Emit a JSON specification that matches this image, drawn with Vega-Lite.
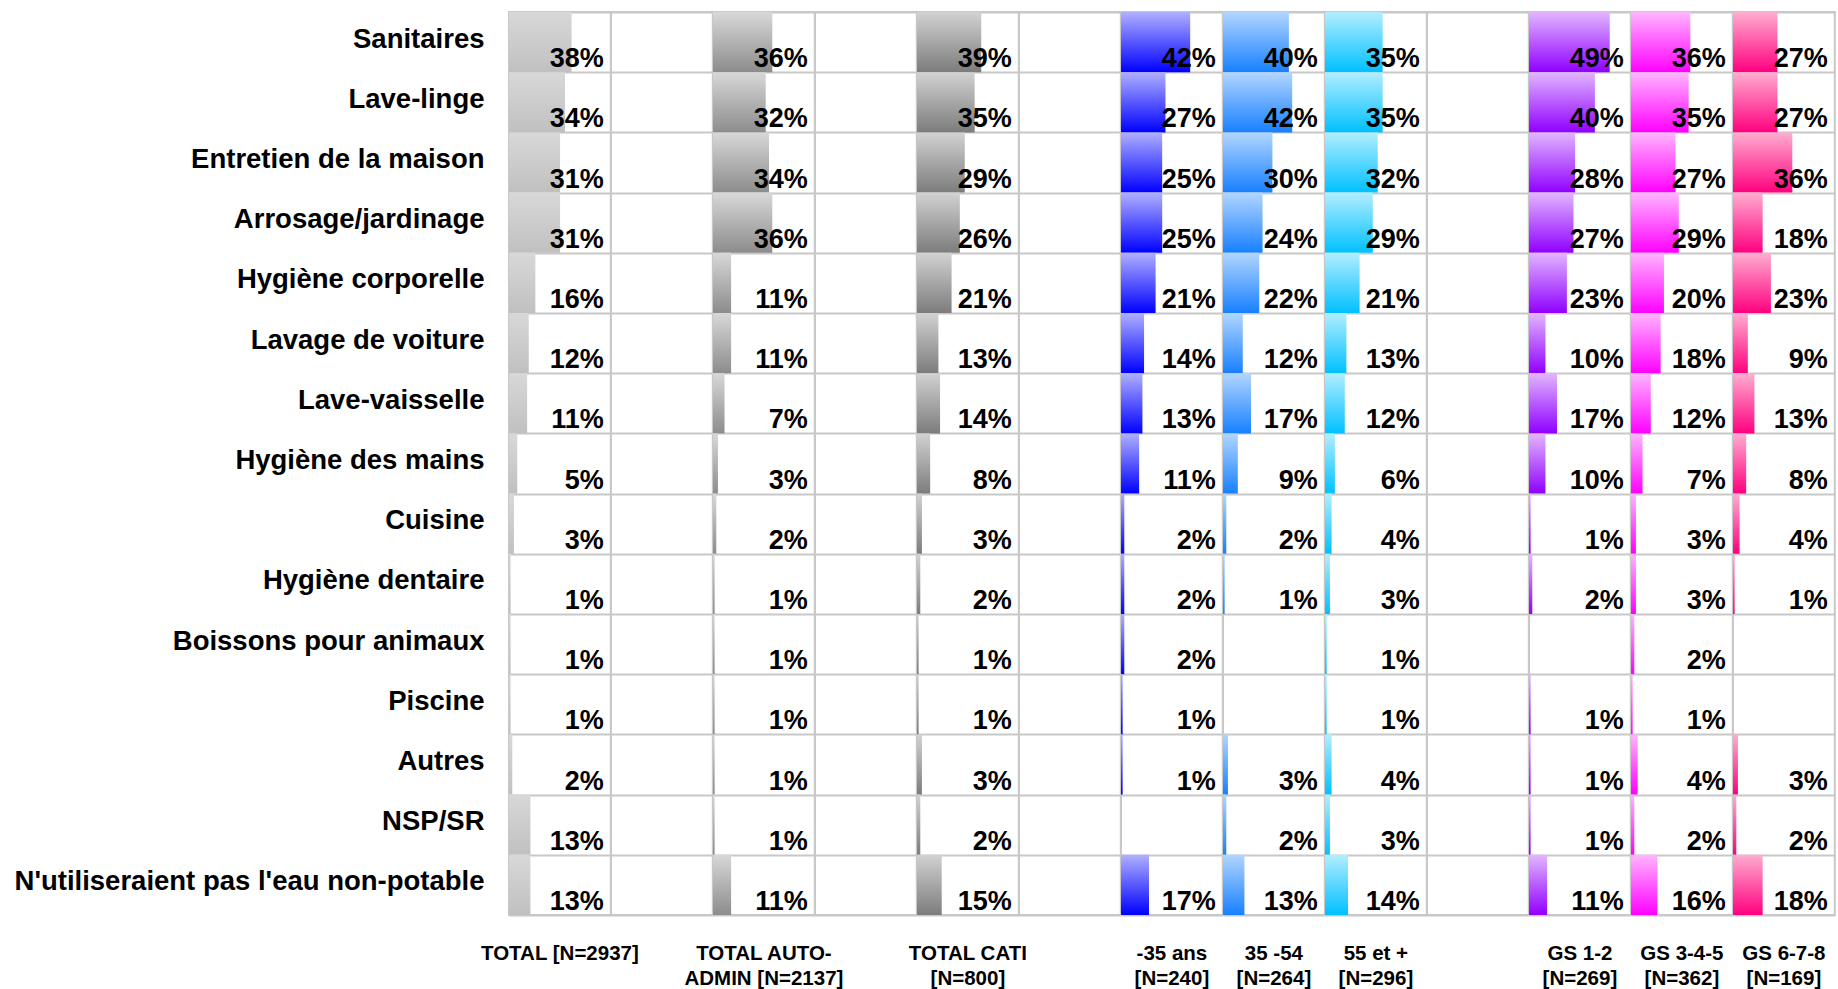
{
  "$schema": "https://vega.github.io/schema/vega-lite/v6.json",
  "padding": {"left": 14, "top": -2, "right": 0, "bottom": 0},
  "background": "white",
  "bounds": "flush",
  "data": {"values": [
    {"cat":"Sanitaires","grp":"TOTAL [N=2937]","v":0.38},
    {"cat":"Sanitaires","grp":"TOTAL AUTO-|ADMIN [N=2137]","v":0.36},
    {"cat":"Sanitaires","grp":"TOTAL CATI|[N=800]","v":0.39},
    {"cat":"Sanitaires","grp":"-35 ans|[N=240]","v":0.42},
    {"cat":"Sanitaires","grp":"35 -54|[N=264]","v":0.40},
    {"cat":"Sanitaires","grp":"55 et +|[N=296]","v":0.35},
    {"cat":"Sanitaires","grp":"GS 1-2|[N=269]","v":0.49},
    {"cat":"Sanitaires","grp":"GS 3-4-5|[N=362]","v":0.36},
    {"cat":"Sanitaires","grp":"GS 6-7-8|[N=169]","v":0.27},
    {"cat":"Sanitaires","grp":"gap1","v":null},
    {"cat":"Sanitaires","grp":"gap2","v":null},
    {"cat":"Sanitaires","grp":"gap3","v":null},
    {"cat":"Sanitaires","grp":"gap4","v":null},

    {"cat":"Lave-linge","grp":"TOTAL [N=2937]","v":0.34},
    {"cat":"Lave-linge","grp":"TOTAL AUTO-|ADMIN [N=2137]","v":0.32},
    {"cat":"Lave-linge","grp":"TOTAL CATI|[N=800]","v":0.35},
    {"cat":"Lave-linge","grp":"-35 ans|[N=240]","v":0.27},
    {"cat":"Lave-linge","grp":"35 -54|[N=264]","v":0.42},
    {"cat":"Lave-linge","grp":"55 et +|[N=296]","v":0.35},
    {"cat":"Lave-linge","grp":"GS 1-2|[N=269]","v":0.40},
    {"cat":"Lave-linge","grp":"GS 3-4-5|[N=362]","v":0.35},
    {"cat":"Lave-linge","grp":"GS 6-7-8|[N=169]","v":0.27},

    {"cat":"Entretien de la maison","grp":"TOTAL [N=2937]","v":0.31},
    {"cat":"Entretien de la maison","grp":"TOTAL AUTO-|ADMIN [N=2137]","v":0.34},
    {"cat":"Entretien de la maison","grp":"TOTAL CATI|[N=800]","v":0.29},
    {"cat":"Entretien de la maison","grp":"-35 ans|[N=240]","v":0.25},
    {"cat":"Entretien de la maison","grp":"35 -54|[N=264]","v":0.30},
    {"cat":"Entretien de la maison","grp":"55 et +|[N=296]","v":0.32},
    {"cat":"Entretien de la maison","grp":"GS 1-2|[N=269]","v":0.28},
    {"cat":"Entretien de la maison","grp":"GS 3-4-5|[N=362]","v":0.27},
    {"cat":"Entretien de la maison","grp":"GS 6-7-8|[N=169]","v":0.36},

    {"cat":"Arrosage/jardinage","grp":"TOTAL [N=2937]","v":0.31},
    {"cat":"Arrosage/jardinage","grp":"TOTAL AUTO-|ADMIN [N=2137]","v":0.36},
    {"cat":"Arrosage/jardinage","grp":"TOTAL CATI|[N=800]","v":0.26},
    {"cat":"Arrosage/jardinage","grp":"-35 ans|[N=240]","v":0.25},
    {"cat":"Arrosage/jardinage","grp":"35 -54|[N=264]","v":0.24},
    {"cat":"Arrosage/jardinage","grp":"55 et +|[N=296]","v":0.29},
    {"cat":"Arrosage/jardinage","grp":"GS 1-2|[N=269]","v":0.27},
    {"cat":"Arrosage/jardinage","grp":"GS 3-4-5|[N=362]","v":0.29},
    {"cat":"Arrosage/jardinage","grp":"GS 6-7-8|[N=169]","v":0.18},

    {"cat":"Hygiène corporelle","grp":"TOTAL [N=2937]","v":0.16},
    {"cat":"Hygiène corporelle","grp":"TOTAL AUTO-|ADMIN [N=2137]","v":0.11},
    {"cat":"Hygiène corporelle","grp":"TOTAL CATI|[N=800]","v":0.21},
    {"cat":"Hygiène corporelle","grp":"-35 ans|[N=240]","v":0.21},
    {"cat":"Hygiène corporelle","grp":"35 -54|[N=264]","v":0.22},
    {"cat":"Hygiène corporelle","grp":"55 et +|[N=296]","v":0.21},
    {"cat":"Hygiène corporelle","grp":"GS 1-2|[N=269]","v":0.23},
    {"cat":"Hygiène corporelle","grp":"GS 3-4-5|[N=362]","v":0.20},
    {"cat":"Hygiène corporelle","grp":"GS 6-7-8|[N=169]","v":0.23},

    {"cat":"Lavage de voiture","grp":"TOTAL [N=2937]","v":0.12},
    {"cat":"Lavage de voiture","grp":"TOTAL AUTO-|ADMIN [N=2137]","v":0.11},
    {"cat":"Lavage de voiture","grp":"TOTAL CATI|[N=800]","v":0.13},
    {"cat":"Lavage de voiture","grp":"-35 ans|[N=240]","v":0.14},
    {"cat":"Lavage de voiture","grp":"35 -54|[N=264]","v":0.12},
    {"cat":"Lavage de voiture","grp":"55 et +|[N=296]","v":0.13},
    {"cat":"Lavage de voiture","grp":"GS 1-2|[N=269]","v":0.10},
    {"cat":"Lavage de voiture","grp":"GS 3-4-5|[N=362]","v":0.18},
    {"cat":"Lavage de voiture","grp":"GS 6-7-8|[N=169]","v":0.09},

    {"cat":"Lave-vaisselle","grp":"TOTAL [N=2937]","v":0.11},
    {"cat":"Lave-vaisselle","grp":"TOTAL AUTO-|ADMIN [N=2137]","v":0.07},
    {"cat":"Lave-vaisselle","grp":"TOTAL CATI|[N=800]","v":0.14},
    {"cat":"Lave-vaisselle","grp":"-35 ans|[N=240]","v":0.13},
    {"cat":"Lave-vaisselle","grp":"35 -54|[N=264]","v":0.17},
    {"cat":"Lave-vaisselle","grp":"55 et +|[N=296]","v":0.12},
    {"cat":"Lave-vaisselle","grp":"GS 1-2|[N=269]","v":0.17},
    {"cat":"Lave-vaisselle","grp":"GS 3-4-5|[N=362]","v":0.12},
    {"cat":"Lave-vaisselle","grp":"GS 6-7-8|[N=169]","v":0.13},

    {"cat":"Hygiène des mains","grp":"TOTAL [N=2937]","v":0.05},
    {"cat":"Hygiène des mains","grp":"TOTAL AUTO-|ADMIN [N=2137]","v":0.03},
    {"cat":"Hygiène des mains","grp":"TOTAL CATI|[N=800]","v":0.08},
    {"cat":"Hygiène des mains","grp":"-35 ans|[N=240]","v":0.11},
    {"cat":"Hygiène des mains","grp":"35 -54|[N=264]","v":0.09},
    {"cat":"Hygiène des mains","grp":"55 et +|[N=296]","v":0.06},
    {"cat":"Hygiène des mains","grp":"GS 1-2|[N=269]","v":0.10},
    {"cat":"Hygiène des mains","grp":"GS 3-4-5|[N=362]","v":0.07},
    {"cat":"Hygiène des mains","grp":"GS 6-7-8|[N=169]","v":0.08},

    {"cat":"Cuisine","grp":"TOTAL [N=2937]","v":0.03},
    {"cat":"Cuisine","grp":"TOTAL AUTO-|ADMIN [N=2137]","v":0.02},
    {"cat":"Cuisine","grp":"TOTAL CATI|[N=800]","v":0.03},
    {"cat":"Cuisine","grp":"-35 ans|[N=240]","v":0.02},
    {"cat":"Cuisine","grp":"35 -54|[N=264]","v":0.02},
    {"cat":"Cuisine","grp":"55 et +|[N=296]","v":0.04},
    {"cat":"Cuisine","grp":"GS 1-2|[N=269]","v":0.01},
    {"cat":"Cuisine","grp":"GS 3-4-5|[N=362]","v":0.03},
    {"cat":"Cuisine","grp":"GS 6-7-8|[N=169]","v":0.04},

    {"cat":"Hygiène dentaire","grp":"TOTAL [N=2937]","v":0.01},
    {"cat":"Hygiène dentaire","grp":"TOTAL AUTO-|ADMIN [N=2137]","v":0.01},
    {"cat":"Hygiène dentaire","grp":"TOTAL CATI|[N=800]","v":0.02},
    {"cat":"Hygiène dentaire","grp":"-35 ans|[N=240]","v":0.02},
    {"cat":"Hygiène dentaire","grp":"35 -54|[N=264]","v":0.01},
    {"cat":"Hygiène dentaire","grp":"55 et +|[N=296]","v":0.03},
    {"cat":"Hygiène dentaire","grp":"GS 1-2|[N=269]","v":0.02},
    {"cat":"Hygiène dentaire","grp":"GS 3-4-5|[N=362]","v":0.03},
    {"cat":"Hygiène dentaire","grp":"GS 6-7-8|[N=169]","v":0.01},

    {"cat":"Boissons pour animaux","grp":"TOTAL [N=2937]","v":0.01},
    {"cat":"Boissons pour animaux","grp":"TOTAL AUTO-|ADMIN [N=2137]","v":0.01},
    {"cat":"Boissons pour animaux","grp":"TOTAL CATI|[N=800]","v":0.01},
    {"cat":"Boissons pour animaux","grp":"-35 ans|[N=240]","v":0.02},
    {"cat":"Boissons pour animaux","grp":"55 et +|[N=296]","v":0.01},
    {"cat":"Boissons pour animaux","grp":"GS 3-4-5|[N=362]","v":0.02},

    {"cat":"Piscine","grp":"TOTAL [N=2937]","v":0.01},
    {"cat":"Piscine","grp":"TOTAL AUTO-|ADMIN [N=2137]","v":0.01},
    {"cat":"Piscine","grp":"TOTAL CATI|[N=800]","v":0.01},
    {"cat":"Piscine","grp":"-35 ans|[N=240]","v":0.01},
    {"cat":"Piscine","grp":"55 et +|[N=296]","v":0.01},
    {"cat":"Piscine","grp":"GS 1-2|[N=269]","v":0.01},
    {"cat":"Piscine","grp":"GS 3-4-5|[N=362]","v":0.01},

    {"cat":"Autres","grp":"TOTAL [N=2937]","v":0.02},
    {"cat":"Autres","grp":"TOTAL AUTO-|ADMIN [N=2137]","v":0.01},
    {"cat":"Autres","grp":"TOTAL CATI|[N=800]","v":0.03},
    {"cat":"Autres","grp":"-35 ans|[N=240]","v":0.01},
    {"cat":"Autres","grp":"35 -54|[N=264]","v":0.03},
    {"cat":"Autres","grp":"55 et +|[N=296]","v":0.04},
    {"cat":"Autres","grp":"GS 1-2|[N=269]","v":0.01},
    {"cat":"Autres","grp":"GS 3-4-5|[N=362]","v":0.04},
    {"cat":"Autres","grp":"GS 6-7-8|[N=169]","v":0.03},

    {"cat":"NSP/SR","grp":"TOTAL [N=2937]","v":0.13},
    {"cat":"NSP/SR","grp":"TOTAL AUTO-|ADMIN [N=2137]","v":0.01},
    {"cat":"NSP/SR","grp":"TOTAL CATI|[N=800]","v":0.02},
    {"cat":"NSP/SR","grp":"35 -54|[N=264]","v":0.02},
    {"cat":"NSP/SR","grp":"55 et +|[N=296]","v":0.03},
    {"cat":"NSP/SR","grp":"GS 1-2|[N=269]","v":0.01},
    {"cat":"NSP/SR","grp":"GS 3-4-5|[N=362]","v":0.02},
    {"cat":"NSP/SR","grp":"GS 6-7-8|[N=169]","v":0.02},

    {"cat":"N'utiliseraient pas l'eau non-potable","grp":"TOTAL [N=2937]","v":0.13},
    {"cat":"N'utiliseraient pas l'eau non-potable","grp":"TOTAL AUTO-|ADMIN [N=2137]","v":0.11},
    {"cat":"N'utiliseraient pas l'eau non-potable","grp":"TOTAL CATI|[N=800]","v":0.15},
    {"cat":"N'utiliseraient pas l'eau non-potable","grp":"-35 ans|[N=240]","v":0.17},
    {"cat":"N'utiliseraient pas l'eau non-potable","grp":"35 -54|[N=264]","v":0.13},
    {"cat":"N'utiliseraient pas l'eau non-potable","grp":"55 et +|[N=296]","v":0.14},
    {"cat":"N'utiliseraient pas l'eau non-potable","grp":"GS 1-2|[N=269]","v":0.11},
    {"cat":"N'utiliseraient pas l'eau non-potable","grp":"GS 3-4-5|[N=362]","v":0.16},
    {"cat":"N'utiliseraient pas l'eau non-potable","grp":"GS 6-7-8|[N=169]","v":0.18}
  ]},
  "facet": {
    "column": {
      "field": "grp", "type": "nominal",
      "sort": ["TOTAL [N=2937]","gap1","TOTAL AUTO-|ADMIN [N=2137]","gap2","TOTAL CATI|[N=800]","gap3","-35 ans|[N=240]","35 -54|[N=264]","55 et +|[N=296]","gap4","GS 1-2|[N=269]","GS 3-4-5|[N=362]","GS 6-7-8|[N=169]"],
      "header": {
        "title": null,
        "labelOrient": "bottom",
        "labelAlign": "center",
        "labelBaseline": "top",
        "labelPadding": 29,
        "labelFont": "Liberation Sans",
        "labelFontSize": {"expr": "datum.grp == 'TOTAL [N=2937]' ? 17.5 : 20.5"},
        "labelFontWeight": "bold",
        "labelLineHeight": 25,
        "labelColor": "#000000",
        "labelExpr": "indexof(datum.value, 'gap') == 0 ? '' : split(datum.value, '|')"
      }
    }
  },
  "spacing": 0,
  "spec": {
    "width": 101.8,
    "height": 903,
    "encoding": {
      "y": {
        "field": "cat", "type": "nominal",
        "scale": {
          "domain": ["Sanitaires","Lave-linge","Entretien de la maison","Arrosage/jardinage","Hygiène corporelle","Lavage de voiture","Lave-vaisselle","Hygiène des mains","Cuisine","Hygiène dentaire","Boissons pour animaux","Piscine","Autres","NSP/SR","N'utiliseraient pas l'eau non-potable"],
          "paddingInner": 0, "paddingOuter": 0
        },
        "axis": {
          "title": null,
          "ticks": false,
          "domain": false,
          "labelPadding": 25,
          "labelLimit": 0,
          "labelFont": "Liberation Sans",
          "labelFontSize": 27.5,
          "labelFontWeight": "bold",
          "labelColor": "#000000",
          "labelBaseline": "middle",
          "labelOffset": -3,
          "grid": true,
          "gridColor": "#c8c8c8",
          "gridWidth": 2,
          "gridOpacity": 1,
          "tickBand": "extent"
        }
      }
    },
    "layer": [
      {
        "mark": {"type": "bar"},
        "encoding": {
          "x": {"field": "v", "type": "quantitative", "scale": {"domain": [0, 0.618], "nice": false, "zero": true}, "axis": null},
          "x2": {"datum": 0},
          "color": {
            "condition": [
              {"test": "datum.grp == 'TOTAL [N=2937]'", "value": {"gradient": "linear", "x1": 0, "y1": 0, "x2": 0, "y2": 1, "stops": [{"offset": 0, "color": "#d8d8d8"}, {"offset": 1, "color": "#c0c0c0"}]}},
              {"test": "datum.grp == 'TOTAL AUTO-|ADMIN [N=2137]'", "value": {"gradient": "linear", "x1": 0, "y1": 0, "x2": 0, "y2": 1, "stops": [{"offset": 0, "color": "#d8d8d8"}, {"offset": 1, "color": "#8c8c8c"}]}},
              {"test": "datum.grp == 'TOTAL CATI|[N=800]'", "value": {"gradient": "linear", "x1": 0, "y1": 0, "x2": 0, "y2": 1, "stops": [{"offset": 0, "color": "#d2d2d2"}, {"offset": 1, "color": "#7c7c7c"}]}},
              {"test": "datum.grp == '-35 ans|[N=240]'", "value": {"gradient": "linear", "x1": 0, "y1": 0, "x2": 0, "y2": 1, "stops": [{"offset": 0, "color": "#b0b0ff"}, {"offset": 1, "color": "#0000ff"}]}},
              {"test": "datum.grp == '35 -54|[N=264]'", "value": {"gradient": "linear", "x1": 0, "y1": 0, "x2": 0, "y2": 1, "stops": [{"offset": 0, "color": "#b2d6ff"}, {"offset": 1, "color": "#1780ff"}]}},
              {"test": "datum.grp == '55 et +|[N=296]'", "value": {"gradient": "linear", "x1": 0, "y1": 0, "x2": 0, "y2": 1, "stops": [{"offset": 0, "color": "#b2eeff"}, {"offset": 1, "color": "#00c0ff"}]}},
              {"test": "datum.grp == 'GS 1-2|[N=269]'", "value": {"gradient": "linear", "x1": 0, "y1": 0, "x2": 0, "y2": 1, "stops": [{"offset": 0, "color": "#e2b6ff"}, {"offset": 1, "color": "#9000ff"}]}},
              {"test": "datum.grp == 'GS 3-4-5|[N=362]'", "value": {"gradient": "linear", "x1": 0, "y1": 0, "x2": 0, "y2": 1, "stops": [{"offset": 0, "color": "#ffb6ff"}, {"offset": 1, "color": "#ff00ff"}]}}
            ],
            "value": {"gradient": "linear", "x1": 0, "y1": 0, "x2": 0, "y2": 1, "stops": [{"offset": 0, "color": "#ffaed0"}, {"offset": 1, "color": "#ff007f"}]}
          }
        }
      },
      {
        "transform": [{"filter": "isValid(datum.v)"}],
        "mark": {"type": "text", "align": "right", "baseline": "alphabetic", "dx": -7, "dy": -5, "font": "Liberation Sans", "fontSize": 27, "fontWeight": "bold", "color": "#000000"},
        "encoding": {
          "x": {"value": "width"},
          "y": {"field": "cat", "type": "nominal", "bandPosition": 1},
          "text": {"field": "v", "type": "quantitative", "format": ".0%"}
        }
      }
    ]
  },
  "config": {
    "view": {"stroke": "#c8c8c8", "strokeWidth": 2},
    "font": "Liberation Sans"
  }
}
